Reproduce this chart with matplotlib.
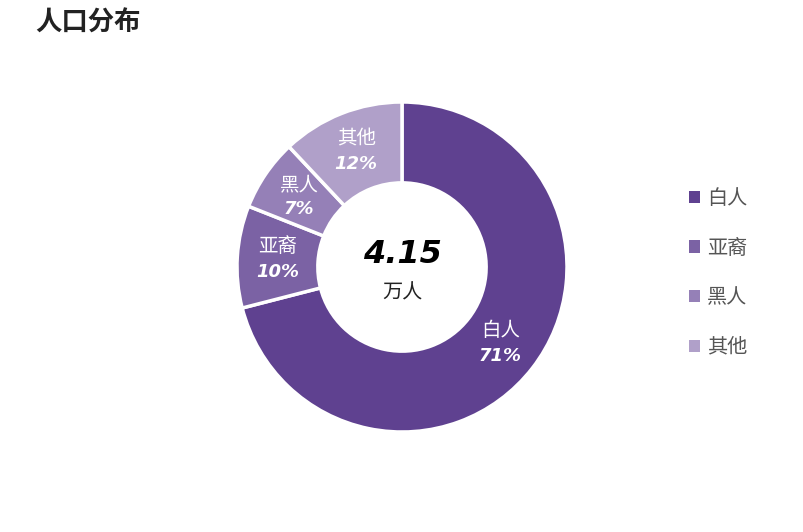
import matplotlib
matplotlib.use('Agg')
import matplotlib.pyplot as plt
from matplotlib.patches import Patch
import numpy as np

plt.rcParams['font.family'] = ['Noto Sans CJK SC', 'DejaVu Sans']

# ── Data ──
groups = ["白人", "亚裔", "黑人", "其他"]
shares = [71, 10, 7, 12]
colors = ["#5f4190", "#7b62a4", "#9580b7", "#b0a0c9"]
total_label = "4.15"
total_unit = "万人"
title = "人口分布"

W, H = 804, 532
fig = plt.figure(figsize=(W / 100, H / 100), dpi=100)

# donut centre ~ (402, 267), outer radius ~165 px
cx, cy, r = 402, 267, 165
ax = fig.add_axes([(cx - r) / W, (H - cy - r) / H, 2 * r / W, 2 * r / H])

wedges, _ = ax.pie(shares, colors=colors, startangle=90, counterclock=False,
                   radius=1.0, wedgeprops=dict(width=0.49, edgecolor="white", linewidth=2.5))
ax.set_xlim(-1, 1)
ax.set_ylim(-1, 1)
ax.axis("off")

# slice labels
for name, val, w in zip(groups, shares, wedges):
    mid = np.deg2rad((w.theta1 + w.theta2) / 2)
    x, y = 0.755 * np.cos(mid), 0.755 * np.sin(mid)
    ax.text(x, y + 0.075, name, ha="center", va="center", color="white", fontsize=14)
    ax.text(x, y - 0.075, f"{val}%", ha="center", va="center", color="white",
            fontsize=13, fontweight="bold", fontstyle="italic", family="DejaVu Sans")

# centre text
ax.text(0, 0.075, total_label, ha="center", va="center", color="black",
        fontsize=23, fontweight="bold", fontstyle="italic", family="DejaVu Sans")
ax.text(0, -0.155, total_unit, ha="center", va="center", color="#222222", fontsize=14.5)

# title
fig.text(35 / W, 1 - 23 / H, title, ha="left", va="center", fontsize=19,
         fontweight="bold", color="#222222")

# legend
handles = [Patch(facecolor=c, edgecolor="none", label=g) for g, c in zip(groups, colors)]
leg = fig.legend(handles=handles, loc="upper left", bbox_to_anchor=(679 / W, 1 - 178 / H),
                 frameon=False, fontsize=14.5, handlelength=0.55, handleheight=0.55,
                 handletextpad=0.35, labelspacing=1.42, borderpad=0)
for t in leg.get_texts():
    t.set_color("#555555")

fig.savefig("out.png", dpi=100)
